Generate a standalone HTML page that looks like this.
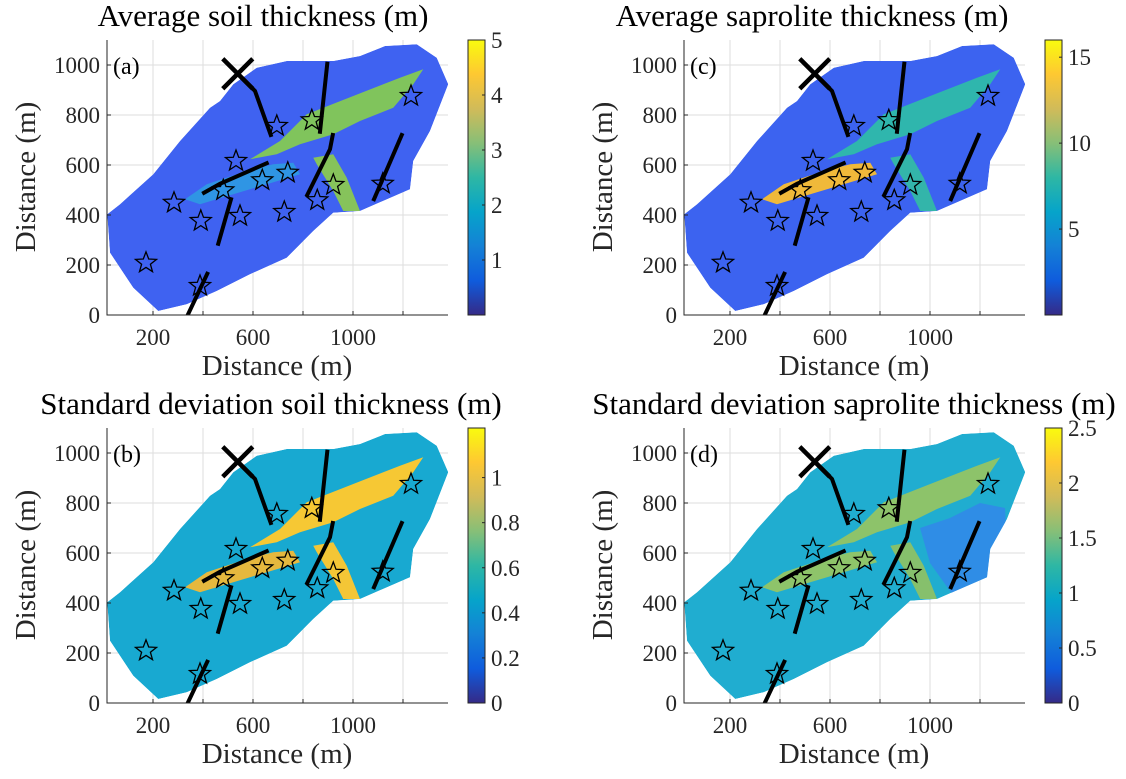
<!DOCTYPE html>
<html><head><meta charset="utf-8">
<style>
html,body{margin:0;padding:0;background:#fff;}
svg{display:block;font-family:"Liberation Serif",serif;}
</style></head>
<body>
<svg id="fig" width="1126" height="779" viewBox="0 0 1126 779" xmlns="http://www.w3.org/2000/svg">
<defs>
<linearGradient id="parula" x1="0" y1="1" x2="0" y2="0">
<stop offset="0" stop-color="#352a87"/><stop offset="0.125" stop-color="#0f5cdd"/>
<stop offset="0.25" stop-color="#1481d6"/><stop offset="0.375" stop-color="#06a4ca"/>
<stop offset="0.5" stop-color="#2eb7a4"/><stop offset="0.625" stop-color="#87bf77"/>
<stop offset="0.75" stop-color="#d1bb59"/><stop offset="0.875" stop-color="#fec832"/>
<stop offset="1" stop-color="#f9fb0e"/></linearGradient>
</defs>
</svg>
<script>
// ---- data (metres) ----
const xTicks = [200, 400, 600, 800, 1000, 1200];
const xTickLabels = ['200', '', '600', '', '1000', ''];
const yTicks = [0, 200, 400, 600, 800, 1000];
const yTickLabels = ['0', '200', '400', '600', '800', '1000'];
const starX = [695, 835, 1232, 532, 739, 637, 481, 921, 857, 1119, 284, 391, 548, 725, 172, 388];
const starY = [756, 779, 876, 616, 569, 539, 499, 520, 459, 525, 449, 376, 396, 412, 209, 116];
const outlineX = [17,28,121,221,335,455,588,735,841,921,1028,1228,1241,1308,1381,1335,1255,1128,1028,921,735,615,521,468,428,308,201,68];
const outlineY = [403,249,109,16,43,96,163,229,336,409,416,503,616,736,923,1029,1083,1076,1036,1016,1016,989,923,856,829,696,563,443];
const neX = [588,708,815,1001,1188,1281,1241,1161,1028,921,788,695];
const neY = [623,696,803,876,949,983,923,829,776,723,683,643];
const southX = [841,921,975,1028,961,921,855];
const southY = [629,643,549,416,416,496,603];
const swX = [328,415,575,681,761,788,655,521,388];
const swY = [463,523,576,603,609,563,523,483,443];
const eastX = [960,1080,1200,1300,1320,1240,1100,1000];
const eastY = [700,740,800,780,400,400,420,560];
const faultsX = [[539,608,671],[897,868],[919,908,817],[1195,1084],[404,468,655],[512,461],[417,337]];
const faultsY = [[965,896,720],[1005,733],[720,663,480],[720,463],[489,525,607],[463,285],[165,-4]];
const outletX = [539];
const outletY = [965];
// colourbar ticks per panel
const cbA = {min:0, max:5, ticks:[1,2,3,4,5], labels:['1','2','3','4','5']};
const cbB = {min:0, max:1.22, ticks:[0,0.2,0.4,0.6,0.8,1], labels:['0','0.2','0.4','0.6','0.8','1']};
const cbC = {min:0, max:16, ticks:[5,10,15], labels:['5','10','15']};
const cbD = {min:0, max:2.5, ticks:[0,0.5,1,1.5,2,2.5], labels:['0','0.5','1','1.5','2','2.5']};

const NS = 'http://www.w3.org/2000/svg';
const svg = document.getElementById('fig');
function mk(tag, attrs, parent){
  const e = document.createElementNS(NS, tag);
  for (const k in attrs) e.setAttribute(k, attrs[k]);
  (parent||svg).appendChild(e);
  return e;
}

const panels = [
 {id:'a', L:107, T:40, title:'Average soil thickness (m)', tx:263, cbx:468, cb:cbA,
  base:'#3f62f1', ne:'#80c45c', south:'#86c35b', sw:'#2f95e4', east:null},
 {id:'c', L:684, T:40, title:'Average saprolite thickness (m)', tx:812, cbx:1045, cb:cbC,
  base:'#3c63f0', ne:'#2fb6ad', south:'#33b5aa', sw:'#f0b93a', east:null},
 {id:'b', L:107, T:428, title:'Standard deviation soil thickness (m)', tx:271, cbx:468, cb:cbB,
  base:'#18a9d1', ne:'#f6c834', south:'#f4c636', sw:'#e6b83e', east:null},
 {id:'d', L:684, T:428, title:'Standard deviation saprolite thickness (m)', tx:854, cbx:1045, cb:cbD,
  base:'#20add0', ne:'#8dc36a', south:'#86c06c', sw:'#8ec46a', east:'#2f8de6'}
];

panels.forEach(p => {
  const W = 341, H = 275, B = p.T + H;
  const sx = m => p.L + 46 + (m - 200) * 0.25;
  const sy = m => B - m * 0.25;
  const g = mk('g', {});
  
  
  const clipId = 'clip' + p.id;
  const cp = mk('clipPath', {id: clipId}, g);
  mk('rect', {x:p.L, y:p.T, width:W, height:H}, cp);
  const oclipId = 'oclip' + p.id;
  const ocp = mk('clipPath', {id: oclipId}, g);
  mk('polygon', {points: outlineX.map((x,i) => sx(x) + ',' + sy(outlineY[i])).join(' ')}, ocp);
  // grid
  xTicks.forEach(t => { const l = mk('line', {x1:sx(t), x2:sx(t), y1:p.T, y2:B, stroke:'#dedede', 'stroke-width':1}, g);
      });
  yTicks.forEach(t => { const l = mk('line', {x1:p.L, x2:p.L+W, y1:sy(t), y2:sy(t), stroke:'#dedede', 'stroke-width':1}, g);
      });
  const outer = mk('g', {'clip-path':'url(#' + clipId + ')'}, g);
  const map = mk('g', {'clip-path':'url(#' + oclipId + ')'}, outer);
  
  
  const poly = (xs, ys, fill, name) => {
    const e = mk('polygon', {points: xs.map((x,i) => sx(x) + ',' + sy(ys[i])).join(' '), fill: fill}, map);
    
    
  };
  poly(outlineX, outlineY, p.base, 'catchment');
  if (p.east) poly(eastX, eastY, p.east, 'east-zone');
  poly(neX, neY, p.ne, 'ne-channel');
  poly(southX, southY, p.south, 'south-channel');
  poly(swX, swY, p.sw, 'sw-channel');
  // faults
  faultsX.forEach((fx, i) => {
    const e = mk('polyline', {points: fx.map((x,j) => sx(x) + ',' + sy(faultsY[i][j])).join(' '), fill:'none', stroke:'#000', 'stroke-width':4, 'stroke-linecap':'square'}, outer);
    
    
  });
  // outlet X
  outletX.forEach((ox, i) => {
    const cx = sx(ox), cy = sy(outletY[i]), r = 15;
    const e = mk('path', {d:`M${cx-r},${cy-r}L${cx+r},${cy+r}M${cx-r},${cy+r}L${cx+r},${cy-r}`, stroke:'#000', 'stroke-width':4.5, fill:'none'}, g);
    
    
  });
  // stars
  starX.forEach((x, i) => {
    const cx = sx(x), cy = sy(starY[i]), R = 11, r = 4.6;
    let pts = [];
    for (let k = 0; k < 10; k++) {
      const a = -Math.PI/2 + k * Math.PI/5, rr = k % 2 ? r : R;
      pts.push((cx + rr*Math.cos(a)).toFixed(1) + ',' + (cy + rr*Math.sin(a)).toFixed(1));
    }
    const e = mk('polygon', {points: pts.join(' '), fill:'none', stroke:'#000', 'stroke-width':1.3}, g);
    
    
  });
  // axes
  const ax = mk('path', {d:`M${p.L},${p.T}V${B}H${p.L+W}`, stroke:'#262626', 'stroke-width':1, fill:'none'}, g);
  
  
  xTicks.forEach((t, i) => {
    mk('line', {x1:sx(t), x2:sx(t), y1:B, y2:B-4, stroke:'#262626'}, g);
    if (xTickLabels[i]) {
      const e = mk('text', {x:sx(t), y:B+30, 'font-size':23, 'text-anchor':'middle', fill:'#262626'}, g);
      e.textContent = xTickLabels[i];
      
      
    }
  });
  yTicks.forEach((t, i) => {
    mk('line', {x1:p.L, x2:p.L+4, y1:sy(t), y2:sy(t), stroke:'#262626'}, g);
    const e = mk('text', {x:p.L-7, y:sy(t)+8, 'font-size':23, 'text-anchor':'end', fill:'#262626'}, g);
    e.textContent = yTickLabels[i];
    
    
  });
  const xl = mk('text', {x:p.L+170, y:B+60, 'font-size':29, 'text-anchor':'middle', fill:'#262626'}, g);
  xl.textContent = 'Distance (m)';
  
  
  const yl = mk('text', {x:0, y:0, 'font-size':29, 'text-anchor':'middle', fill:'#262626', transform:`translate(${p.L-72},${p.T+137}) rotate(-90)`}, g);
  yl.textContent = 'Distance (m)';
  
  
  const ti = mk('text', {x:p.tx, y:p.T-14, 'font-size':31, 'text-anchor':'middle', fill:'#000'}, g);
  ti.textContent = p.title;
  
  
  const pl = mk('text', {x:p.L+6, y:p.T+34, 'font-size':24, fill:'#000'}, g);
  pl.textContent = '(' + p.id + ')';
  
  
  // colourbar
  const cb = p.cb, cw = 17;
  const cy = v => B - (v - cb.min) / (cb.max - cb.min) * H;
  const bar = mk('rect', {x:p.cbx, y:p.T, width:cw, height:H, fill:'url(#parula)', stroke:'#262626', 'stroke-width':1}, g);
  
  
  cb.ticks.forEach((t, i) => {
    const y = Math.max(p.T, Math.min(B, cy(t)));
    mk('line', {x1:p.cbx+cw-3, x2:p.cbx+cw, y1:y, y2:y, stroke:'#262626'}, g);
    const e = mk('text', {x:p.cbx+cw+6, y:y+8, 'font-size':23, fill:'#262626'}, g);
    e.textContent = cb.labels[i];
    
    
  });
});
</script>
</body></html>
